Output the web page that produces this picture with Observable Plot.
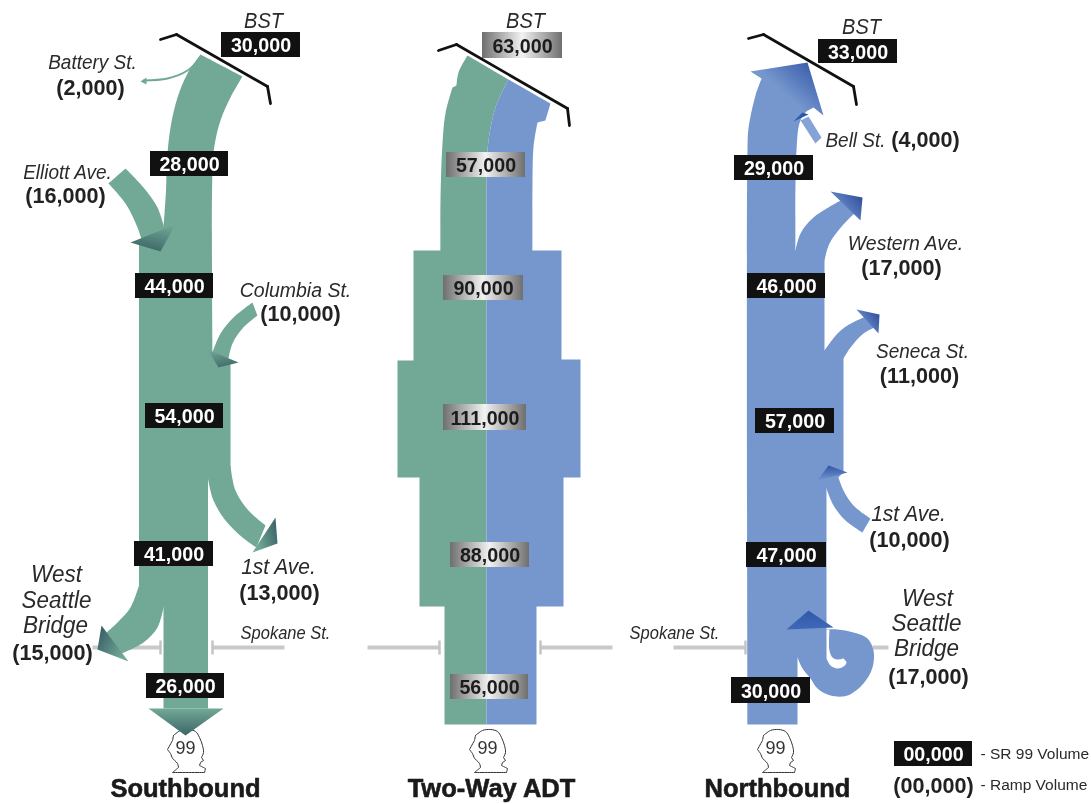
<!DOCTYPE html>
<html>
<head>
<meta charset="utf-8">
<script src="https://cdn.jsdelivr.net/npm/d3@7"></script>
<script src="https://cdn.jsdelivr.net/npm/@observablehq/plot@0.6"></script>
<style>
  html, body { margin: 0; padding: 0; background: #fff; overflow: hidden; }
  svg { display: block; filter: blur(0.45px); }
</style>
</head>
<body>
<div id="chart"></div>
<script>
// ---- values -------------------------------------------------------------
const southVolumes = ["30,000", "28,000", "44,000", "54,000", "41,000", "26,000"];
const twoWayVolumes = ["63,000", "57,000", "90,000", "111,000", "88,000", "56,000"];
const northVolumes = ["33,000", "29,000", "46,000", "57,000", "47,000", "30,000"];
const southRamps = ["(2,000)", "(16,000)", "(10,000)", "(13,000)", "(15,000)"];
const northRamps = ["(4,000)", "(17,000)", "(11,000)", "(10,000)", "(17,000)"];
const placeNames = ["BST", "Battery St.", "Elliott Ave.", "Columbia St.", "1st Ave.", "West", "Seattle", "Bridge", "Spokane St.",
                    "BST", "BST", "Bell St.", "Western Ave.", "Seneca St.", "1st Ave.", "West", "Seattle", "Bridge", "Spokane St."];
const panelTitles = ["Southbound", "Two-Way ADT", "Northbound"];
const legendEntries = ["- SR 99 Volume", "- Ramp Volume"];

// ---- layout (image pixels) ----------------------------------------------
const southBoxes = [[221,300,32,57],[150,228,151,176],[135,213,273,298],[145,223,403,428],[134,213,541,566],[146,224,673,698]];
const twoWayBoxes = [[482,562,32,58],[446,525,152,177],[443,523,275,300],[443,526,404,430],[450,529,542,567],[450,528,674,699]];
const northBoxes = [[818,897,39,63],[734,813,155,180],[747,825,273,298],[755,834,408,433],[746,826,542,567],[731,810,677,703]];
const southRampAt = [[90,87],[65,195],[300,313],[279,592],[52,652]];
const northRampAt = [[925,139],[901,267],[919,375],[909,539],[928,676]];
const placeAt = [[263,21,20],[92,62,19],[67,172,19],[295,290,19.5],[278,566,21],[56,574,22.5],[56,600,22.5],[55,625,22.5],[285,633,16.5],
                 [525,21,20],[861,27,20],[855,140,19],[905,243,19.5],[922,351,19],[908,513,21],[927,598,22.5],[926,623,22.5],[926,648,22.5],[674,633,16.5]];
const titleAt = [[185,788],[491,788],[777,788]];
const shieldCenters = [185, 487, 775];

// ---- outlines, a third element 1 marks a sharp corner --------------------
const southTrunk = [[200,54,1],[242,76,1],[230,97],[220,120],[214,145],[212,170],[212,352,1],[230,360,1],[230,470,1],[207.5,478,1],[207.5,708,1],[163,708,1],[163,607,1],[138.5,585,1],[138.5,242,1],[163,228,1],[165.5,190],[166.5,160],[170,127],[177,97],[187,73],[200,54,1]];
const elliottArm = [[125,168,1],[143,187],[157,207],[165,232,1],[170,245,1],[142,242,1],[137,227],[125,203],[108,183,1],[125,168,1]];
const columbiaArm = [[252,302,1],[233,317],[220,333],[212,352,1],[205,360,1],[228,358,1],[232,343],[242,328],[257,315,1],[252,302,1]];
const firstSouthArm = [[230,465,1],[235,490],[248,510],[265,525,1],[256,547,1],[242,537],[225,520],[213,500],[207.5,478,1],[205,460,1],[230,465,1]];
const wsbSouthArm = [[138.5,585,1],[130,607],[117,622],[106,632,1],[121,653,1],[143,642],[157,627],[163,607,1],[168,585,1],[138.5,585,1]];
const southHeads = [
  {pts:[[175,224],[160,251],[130,242],[175,224]], fill:"gsE"},
  {pts:[[207,349],[238,362],[218,367],[207,349]], fill:"gsC"},
  {pts:[[275,517],[277,543],[252,552],[275,517]], fill:"gsF"},
  {pts:[[101,625],[128,661],[97,649],[101,625]], fill:"gsW"},
  {pts:[[148,708],[223,708],[185,735],[148,708]], fill:"gsD"}
];
const twoWayGreen = [[467,55,1],[508,79,1],[495,107],[488,140],[486,173,1],[486,724,1],[444,724,1],[444,606,1],[419,606,1],[419,477,1],[397,477,1],[397,360,1],[413,360,1],[413,250,1],[440,250,1],[440,200],[442,143],[445,113],[452,87,1],[456,85,1],[458,72],[467,55,1]];
const twoWayBlue = [[508,79,1],[550,103,1],[545,120,1],[537,122,1],[533,147],[532,183],[532,250,1],[561,250,1],[561,359,1],[580,359,1],[580,477,1],[563,477,1],[563,606,1],[536,606,1],[536,724,1],[486,724,1],[486,173,1],[488,140],[495,107],[508,79,1]];
const northTrunk = [[747,724,1],[747,150],[748,128],[755,95],[762,76,1],[812,104,1],[800,120],[796,150],[795,250,1],[824,258,1],[824,350,1],[843,357,1],[843,472,1],[826,488,1],[826,658,1],[797,657,1],[797,724,1],[747,724,1]];
const westernArm = [[795,250,1],[800,233],[813,217],[842,199,1],[856,211,1],[842,225],[829,243],[824,260,1],[790,262,1],[795,250,1]];
const senecaArm = [[824,350,1],[837,333],[847,325],[865,316,1],[874,327,1],[863,333],[850,347],[843,358,1],[820,365,1],[824,350,1]];
const firstNorthArm = [[837,474,1],[843,490],[853,505],[870,518,1],[862,532,1],[845,520],[833,505],[826,488,1],[820,478,1],[837,474,1]];
const bellArm = [[800,120,1],[808,116,1],[821,137,1],[815,143,1],[800,120,1]];
const spiral = [[797,657,1],[802,668],[810,678],[817,688],[830,695],[847,695],[863,683],[872,667],[873,650],[867,638],[853,632],[837,629],[825,629,1],[797,657,1]];
const spiralSlit = [[826,629,1],[829,629,1],[829,650],[832,657],[837,659],[843,658,1],[846,662],[843,666],[837,668],[830,665],[826,658,1],[826,629,1]];
const northHeads = [
  {pts:[[750,71],[807,62],[823,115],[813,107],[802,113],[798,122],[761,78],[750,71]], fill:"gnB"},
  {pts:[[793,121],[802,112],[808,114],[793,121]], fill:"gnL"},
  {pts:[[830,191],[862,197],[860,220],[830,191]], fill:"gnW"},
  {pts:[[856,309],[879,314],[878,333],[856,309]], fill:"gnS"},
  {pts:[[817,480],[828,465],[847,472],[817,480]], fill:"gnF"},
  {pts:[[786,629],[808,610],[833,627],[786,629]], fill:"gnK"}
];
const roads = [[160,39,176,34],[176,34,267,86],[267,86,270,103],[438,50,456,44],[456,44,567,108],[567,108,569,125],[748,38,763,34],[763,34,853,86],[853,86,856,104]];
const spokaneBars = [[92,160],[212,284],[367,439],[540,612],[673,745],[872,888]];
const spokaneCaps = [160,212,439,540,745];
const shieldOutline = [[-12,-15,1],[-5,-20],[3,-21],[10,-19],[14,-13],[17,-5],[18,2],[16,7,1],[18,10,1],[15,12,1],[14,15,1],[20,18,1],[19,22,1],[-13,22,1],[-7,17,1],[-8,13],[-13,8,1],[-15,3,1],[-18,-1,1],[-13,-10,1],[-12,-15,1]];
const legendBox = [[894,972,741,766]];
const legendText = [[980,754],[980,785]];

// ---- colours ------------------------------------------------------------
const green = "#72a996", blue = "#7697cd";
const gradientDefs = [
  ["gsE",0.9,0,0.45,1,green,"#3e6768"],
  ["gsC",0.1,0,0.55,1,green,"#436c6c"],
  ["gsF",0.2,0.8,1,0.5,green,"#3f6a6c"],
  ["gsW",0.9,0.7,0.1,0.2,green,"#3c6468"],
  ["gsD",0.5,0,0.5,1,green,"#3c6468"],
  ["gnB",1,0,0.45,0.5,"#2b4fa3",blue],
  ["gnL",0,1,1,0,"#2d58ab","#2a56aa"],
  ["gnW",1,0.2,0.2,0.8,"#2f4f9f",blue],
  ["gnS",1,0.2,0.2,0.8,"#2f4f9f",blue],
  ["gnF",0.5,0,0.5,1,"#2f53a6",blue],
  ["gnK",0.5,0,0.5,1,"#3158ab","#3f69b8"]
];

// ---- helpers -------------------------------------------------------------
const sharpen = poly => poly.flatMap(p => p[2] ? [p, p] : [p]);
const shape = (poly, fill, curve = "catmull-rom") =>
  Plot.line(sharpen(poly), {x: d => d[0], y: d => d[1], fill, stroke: "none", curve});
const table = (texts, at) => texts.map((text, i) => ({text, x: at[i][0], y: at[i][1], size: at[i][2]}));
const boxes = (texts, at) => texts.map((text, i) => ({text, x1: at[i][0], x2: at[i][1], y1: at[i][2], y2: at[i][3]}));
const font = "'Liberation Sans', Arial, sans-serif";

const defsMark = () => {
  const defs = document.createElementNS("http://www.w3.org/2000/svg", "defs");
  const grads = gradientDefs.map(([id,x1,y1,x2,y2,a,b]) =>
    `<linearGradient id="${id}" x1="${x1}" y1="${y1}" x2="${x2}" y2="${y2}"><stop offset="0" stop-color="${a}"/><stop offset="1" stop-color="${b}"/></linearGradient>`).join("");
  defs.innerHTML = grads + `<linearGradient id="chrome" x1="0" x2="1" y1="0" y2="0"><stop offset="0" stop-color="#6f6f6f"/><stop offset="0.5" stop-color="#f2f2f2"/><stop offset="1" stop-color="#6f6f6f"/></linearGradient>`;
  return defs;
};

const sBoxes = boxes(southVolumes, southBoxes);
const tBoxes = boxes(twoWayVolumes, twoWayBoxes);
const nBoxes = boxes(northVolumes, northBoxes);
const boxLabel = (rows, fill) => Plot.text(rows, {
  x: d => (d.x1 + d.x2) / 2, y: d => (d.y1 + d.y2) / 2 + 0.5, text: "text",
  fill, fontFamily: font, fontWeight: "bold", fontSize: 20.5, textAnchor: "middle", lineAnchor: "middle", className: "tall96"
});
const boxRect = (rows, fill) => Plot.rect(rows, {x1: "x1", x2: "x2", y1: "y1", y2: "y2", fill});
const ramp = rows => Plot.text(rows, {x: "x", y: "y", text: "text", fill: "#222", fontFamily: font, fontWeight: "bold", fontSize: 22.5, textAnchor: "middle", lineAnchor: "middle", className: "tall96"});

const plot = Plot.plot({
  width: 1091, height: 804, margin: 0,
  x: {domain: [0, 1091], range: [0, 1091], axis: null},
  y: {domain: [0, 804], range: [0, 804], axis: null},
  style: {background: "#fff"},
  marks: [
    defsMark,
    // Spokane St. bars
    Plot.link(spokaneBars, {x1: d => d[0], x2: d => d[1], y1: () => 647, y2: () => 647, stroke: "#c9c9c9", strokeWidth: 4}),
    Plot.link(spokaneCaps, {x1: d => d, x2: d => d, y1: () => 640, y2: () => 654, stroke: "#c4c4c4", strokeWidth: 2.5}),
    // Route shields
    ...shieldCenters.map(cx => Plot.line(sharpen(shieldOutline), {x: d => cx + d[0], y: d => 750 + d[1], fill: "#fff", stroke: "#333", strokeWidth: 1, curve: "catmull-rom"})),
    Plot.text(shieldCenters, {x: d => d, y: () => 748, text: () => "99", fill: "#333", fontFamily: font, fontSize: 18, textAnchor: "middle", lineAnchor: "middle"}),
    // Southbound
    shape(southTrunk, green), shape(elliottArm, green), shape(columbiaArm, green), shape(firstSouthArm, green), shape(wsbSouthArm, green),
    ...southHeads.map(h => shape(h.pts, `url(#${h.fill})`, "linear")),
    Plot.line([[200,57],[187,70],[167,78],[143,80]], {x: d => d[0], y: d => d[1], stroke: green, strokeWidth: 1.8, curve: "catmull-rom"}),
    shape([[140,81],[146,77],[146,84],[140,81]], green, "linear"),
    // Two-way
    shape(twoWayGreen, green), shape(twoWayBlue, blue),
    // Northbound
    shape(northTrunk, blue), shape(westernArm, blue), shape(senecaArm, blue), shape(firstNorthArm, blue), shape(bellArm, "#86a3d8"),
    shape(spiral, blue), shape(spiralSlit, "#fff"),
    ...northHeads.map(h => shape(h.pts, `url(#${h.fill})`, "linear")),
    // BST ramps
    Plot.link(roads, {x1: d => d[0], y1: d => d[1], x2: d => d[2], y2: d => d[3], stroke: "#111", strokeWidth: 2.8, strokeLinecap: "round"}),
    // Volume boxes
    boxRect(sBoxes, "#111"), boxLabel(sBoxes, "#fff"),
    boxRect(tBoxes, "url(#chrome)"), boxLabel(tBoxes, "#1c1c1c"),
    boxRect(nBoxes, "#111"), boxLabel(nBoxes, "#fff"),
    // Ramp volumes and names
    ramp(table(southRamps, southRampAt)), ramp(table(northRamps, northRampAt)),
    Plot.text(table(placeNames, placeAt), {x: "x", y: "y", text: "text", fill: "#2a2a2a", fontFamily: font, fontStyle: "italic", fontSize: d => d.size * 1.08, textAnchor: "middle", lineAnchor: "middle", className: "tall92"}),
    // Panel titles
    Plot.text(table(panelTitles, titleAt), {x: "x", y: "y", text: "text", fill: "#1a1a1a", stroke: "#1a1a1a", strokeWidth: 0.6, fontFamily: font, fontWeight: "bold", fontSize: 25.5, textAnchor: "middle", lineAnchor: "middle"}),
    // Legend
    boxRect(boxes(["00,000"], legendBox), "#111"), boxLabel(boxes(["00,000"], legendBox), "#fff"),
    ramp([{text: "(00,000)", x: 933, y: 785}]),
    Plot.text(table(legendEntries, legendText), {x: "x", y: "y", text: "text", fill: "#2a2a2a", fontFamily: font, fontSize: 15.5, textAnchor: "start", lineAnchor: "middle"})
  ]
});
document.getElementById("chart").appendChild(plot);
// Reference lettering is slightly condensed: keep each label's width, taller glyphs.
const condense = (selector, k) => d3.select(plot).selectAll(selector).each(function () {
  this.setAttribute("textLength", (this.getComputedTextLength() * k).toFixed(1));
  this.setAttribute("lengthAdjust", "spacingAndGlyphs");
});
condense(".tall96 text", 0.96);
condense(".tall92 text", 0.925);
</script>
</body>
</html>
